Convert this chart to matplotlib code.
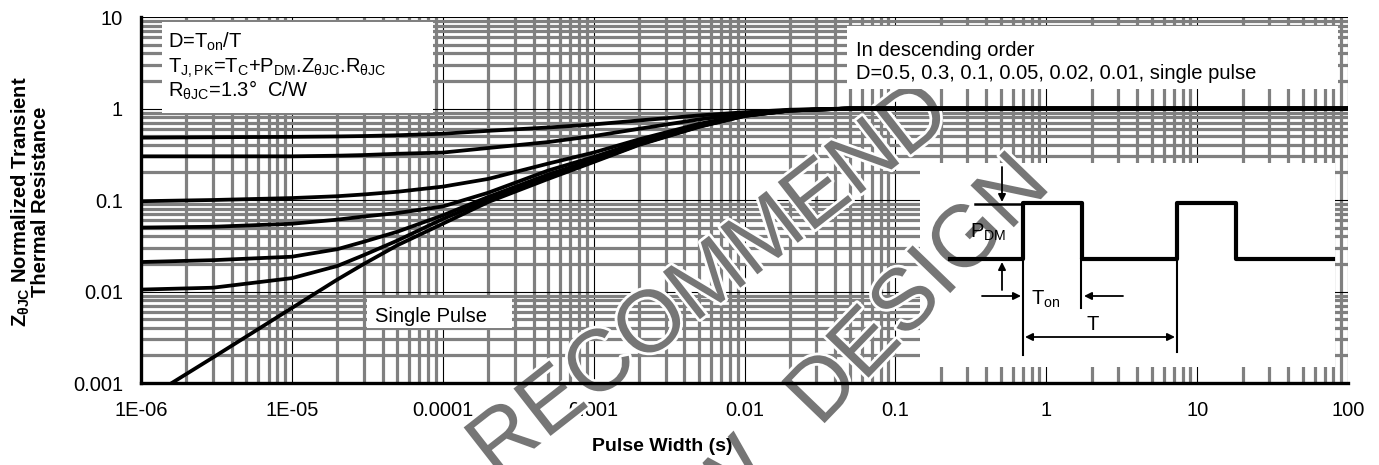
import numpy as np
import matplotlib
matplotlib.use("Agg")
import matplotlib.pyplot as plt
import matplotlib.patheffects as pe
import matplotlib.transforms as mtransforms
from matplotlib.patches import Rectangle
from matplotlib.ticker import LogLocator, NullFormatter

plt.rcParams['font.family'] = ['Liberation Sans', 'DejaVu Sans']
plt.rcParams['mathtext.fontset'] = 'custom'
plt.rcParams['mathtext.rm'] = 'Liberation Sans'
plt.rcParams['mathtext.it'] = 'Liberation Sans:italic'
plt.rcParams['mathtext.default'] = 'regular'

#--------------- data ----------#
pulse_width = [1e-6, 3e-6, 1e-5, 2e-5, 3e-5, 5e-5, 1e-4, 2e-4, 5e-4, 1e-3, 2e-3, 5e-3, 1e-2, 2e-2, 5e-2, 1e-1, 1e2]
z_d050 = [0.48, 0.485, 0.49, 0.495, 0.50, 0.51, 0.53, 0.57, 0.62, 0.67, 0.74, 0.84, 0.91, 0.97, 1.0, 1.0, 1.0]
z_d030 = [0.30, 0.30, 0.30, 0.305, 0.31, 0.32, 0.33, 0.37, 0.43, 0.50, 0.60, 0.76, 0.88, 0.96, 1.0, 1.0, 1.0]
z_d010 = [0.097, 0.10, 0.105, 0.11, 0.115, 0.123, 0.14, 0.17, 0.25, 0.33, 0.46, 0.68, 0.85, 0.955, 1.0, 1.0, 1.0]
z_d005 = [0.050, 0.051, 0.055, 0.061, 0.066, 0.072, 0.085, 0.12, 0.21, 0.295, 0.43, 0.655, 0.84, 0.95, 1.0, 1.0, 1.0]
z_d002 = [0.021, 0.022, 0.024, 0.029, 0.035, 0.045, 0.068, 0.108, 0.19, 0.275, 0.41, 0.64, 0.835, 0.95, 1.0, 1.0, 1.0]
z_d001 = [0.0105, 0.011, 0.014, 0.019, 0.025, 0.036, 0.062, 0.10, 0.18, 0.265, 0.405, 0.635, 0.83, 0.95, 1.0, 1.0, 1.0]

sp_width = [1.6e-6, 3e-6, 1e-5, 2e-5, 3e-5, 5e-5, 1e-4, 2e-4, 5e-4, 1e-3, 2e-3, 5e-3, 1e-2, 2e-2, 5e-2, 1e-1, 1e2]
z_single = [0.001, 0.0019, 0.0066, 0.0135, 0.02, 0.032, 0.055, 0.095, 0.17, 0.26, 0.40, 0.63, 0.83, 0.95, 1.0, 1.0, 1.0]

x_ticks = [1e-6, 1e-5, 1e-4, 1e-3, 1e-2, 1e-1, 1, 10, 100]
x_ticklabels = ["1E-06", "1E-05", "0.0001", "0.001", "0.01", "0.1", "1", "10", "100"]
y_ticks = [0.001, 0.01, 0.1, 1, 10]
y_ticklabels = ["0.001", "0.01", "0.1", "1", "10"]

#--------------- figure ----------#
W, H = 1379, 465
FS = 14.5
fig = plt.figure(figsize=(W / 100, H / 100), dpi=100)
ax = fig.add_axes([141 / W, 1 - 383 / H, (1348 - 141) / W, (383 - 17) / H])
# pixel coords (y down) for boxes / inset drawing
pix = mtransforms.Affine2D().scale(1 / W, -1 / H).translate(0, 1) + fig.transFigure

ax.set_xscale('log')
ax.set_yscale('log')
ax.set_xlim(1e-6, 100)
ax.set_ylim(0.001, 10)
ax.set_xticks(x_ticks, x_ticklabels)
ax.set_yticks(y_ticks, y_ticklabels)
ax.xaxis.set_minor_locator(LogLocator(base=10, subs=np.arange(2, 10), numticks=100))
ax.yaxis.set_minor_locator(LogLocator(base=10, subs=np.arange(2, 10), numticks=100))
ax.xaxis.set_minor_formatter(NullFormatter())
ax.yaxis.set_minor_formatter(NullFormatter())
ax.tick_params(which='both', length=0, labelsize=FS, pad=13)
ax.set_axisbelow(True)
ax.grid(True, which='major', color='black', linewidth=0.8)
ax.grid(True, which='minor', color='#808080', linewidth=2.3)
for s in ['top', 'right']:
    ax.spines[s].set_visible(False)
for s in ['left', 'bottom']:
    ax.spines[s].set_linewidth(2.4)
    ax.spines[s].set_zorder(2.5)

for z in [z_d050, z_d030, z_d010, z_d005, z_d002, z_d001]:
    ax.plot(pulse_width, z, color='black', lw=2.7, zorder=2)
ax.plot(sp_width, z_single, color='black', lw=2.7, zorder=2)

# white boxes
def white_box(x0, y0, x1, y1, z):
    ax.add_patch(Rectangle((x0, y1), x1 - x0, y0 - y1, transform=pix, facecolor='white',
                           edgecolor='none', zorder=z, clip_on=False))

white_box(162, 22, 433, 113, 3)
white_box(847, 26, 1338, 89, 3)
white_box(367, 298, 512, 328, 3)
white_box(920, 163, 1335, 367, 1)

def label(x, y, s, ha='left', z=4):
    ax.text(x, y, s, transform=pix, fontsize=FS, ha=ha, va='baseline', zorder=z)

label(168, 48, "D=T$_{on}$/T")
label(168, 73, "T$_{J,PK}$=T$_{C}$+P$_{DM}$.Z$_{\u03b8JC}$.R$_{\u03b8JC}$")
label(168, 97, "R$_{\u03b8JC}$=1.3\u00b0  C/W")
label(856, 56, "In descending order")
label(856, 79, "D=0.5, 0.3, 0.1, 0.05, 0.02, 0.01, single pulse")
label(375, 322, "Single Pulse")

# axis titles
fig.text(662 / W, 1 - 446 / H, "Pulse Width (s)", fontsize=14, fontweight='bold', ha='center', va='center')
fig.text(30 / W, 1 - 202 / H, "Z$_{\u03b8JC}$ Normalized Transient\nThermal Resistance", fontsize=14.5,
         fontweight='bold', ha='center', va='center', rotation=90, linespacing=0.95)

#--------------- pulse sketch inset ----------#
wave_x = [950, 1023, 1023, 1082, 1082, 1177, 1177, 1236, 1236, 1333]
wave_y = [259, 259, 203, 203, 259, 259, 203, 203, 259, 259]
ax.plot(wave_x, wave_y, transform=pix, color='black', lw=3, clip_on=False, zorder=3)
ax.plot([975, 1023], [204, 204], transform=pix, color='black', lw=1.8, clip_on=False, zorder=3)
for xv, ybot in [(1023, 355), (1081, 308), (1177, 352)]:
    ax.plot([xv, xv], [259, ybot], transform=pix, color='black', lw=1.5, clip_on=False, zorder=3)

def arrow(x0, y0, x1, y1, style='-|>'):
    ax.annotate('', xy=(x1, y1), xytext=(x0, y0), xycoords=pix, textcoords=pix,
                annotation_clip=False, zorder=3,
                arrowprops=dict(arrowstyle=style, color='black', lw=1.3, mutation_scale=11,
                                shrinkA=0, shrinkB=0))

arrow(1002, 167, 1002, 202)
arrow(1002, 290, 1002, 262)
arrow(982, 296, 1021, 296)
arrow(1123, 296, 1084, 296)
arrow(1025, 337, 1175, 337, style='<|-|>')

label(970, 238, "P$_{DM}$", z=3)
label(1031, 305, "T$_{on}$", z=3)
label(1093, 330, "T", ha='center', z=3)

#--------------- watermark ----------#
wm_effects = [pe.Stroke(linewidth=4, foreground='white'), pe.Normal()]
for wx, wy, rot, word in [(711, 282, 38, "RECOMMEND"), (920, 292, 46, "DESIGN"), (690, 530, 46, "NEW")]:
    ax.text(wx, wy, word, transform=pix, fontsize=63, color='#767676', rotation=rot,
            rotation_mode='anchor', ha='center', va='center', zorder=1.5, clip_on=False,
            path_effects=wm_effects)

fig.savefig("out.png", dpi=100)
